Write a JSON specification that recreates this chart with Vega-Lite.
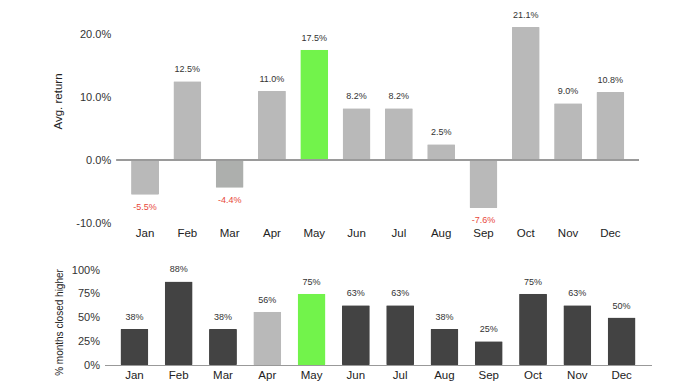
{
  "$schema": "https://vega.github.io/schema/vega-lite/v6.json",
  "background": "white",
  "padding": {"left": 51.5, "top": 11, "right": 5, "bottom": 5},
  "config": {
    "locale": {"number": {"decimal": ".", "thousands": ",", "grouping": [3], "currency": ["$", ""], "minus": "-"}},
    "view": {"stroke": null},
    "font": "Liberation Sans",
    "axis": {"labelFont": "Liberation Sans", "titleFont": "Liberation Sans", "labelColor": "#333", "titleColor": "#222", "labelFontSize": 11, "titleFontSize": 11, "titleFontWeight": "normal", "grid": false, "ticks": false}
  },
  "datasets": {
    "ret": [
      {"month": "Jan", "ret": -0.055, "kind": "base"},
      {"month": "Feb", "ret": 0.125, "kind": "base"},
      {"month": "Mar", "ret": -0.044, "kind": "alt"},
      {"month": "Apr", "ret": 0.110, "kind": "base"},
      {"month": "May", "ret": 0.175, "kind": "current"},
      {"month": "Jun", "ret": 0.082, "kind": "base"},
      {"month": "Jul", "ret": 0.082, "kind": "base"},
      {"month": "Aug", "ret": 0.025, "kind": "base"},
      {"month": "Sep", "ret": -0.076, "kind": "base"},
      {"month": "Oct", "ret": 0.211, "kind": "base"},
      {"month": "Nov", "ret": 0.090, "kind": "base"},
      {"month": "Dec", "ret": 0.108, "kind": "base"}
    ],
    "hit": [
      {"month": "Jan", "pct": 0.38, "kind": "dark"},
      {"month": "Feb", "pct": 0.88, "kind": "dark"},
      {"month": "Mar", "pct": 0.38, "kind": "dark"},
      {"month": "Apr", "pct": 0.56, "kind": "light"},
      {"month": "May", "pct": 0.75, "kind": "current"},
      {"month": "Jun", "pct": 0.63, "kind": "dark"},
      {"month": "Jul", "pct": 0.63, "kind": "dark"},
      {"month": "Aug", "pct": 0.38, "kind": "dark"},
      {"month": "Sep", "pct": 0.25, "kind": "dark"},
      {"month": "Oct", "pct": 0.75, "kind": "dark"},
      {"month": "Nov", "pct": 0.63, "kind": "dark"},
      {"month": "Dec", "pct": 0.50, "kind": "dark"}
    ]
  },
  "vconcat": [
    {
      "width": 522,
      "height": 189,
      "data": {"name": "ret"},
      "encoding": {
        "x": {"field": "month", "type": "nominal", "sort": null, "title": null,
              "scale": {"paddingInner": 0.34, "paddingOuter": 0.34},
              "axis": {"labelAngle": 0, "domain": false, "labelPadding": 4, "labelFontSize": 11.5, "labelColor": "#222"}},
        "y": {"field": "ret", "type": "quantitative", "title": "Avg. return",
              "scale": {"domain": [-0.1, 0.2], "nice": false},
              "axis": {"values": [-0.1, 0, 0.1, 0.2], "format": ".1%", "domain": false, "labelPadding": 6, "titleX": -53.5, "titleY": 67, "titleFontSize": 11.5}}
      },
      "layer": [
        {"mark": {"type": "bar", "cornerRadius": 1},
         "encoding": {"color": {"field": "kind", "type": "nominal", "legend": null,
            "scale": {"domain": ["base", "alt", "current"], "range": ["#b9b9b9", "#adafad", "#72f34b"]}}}},
        {"mark": {"type": "rule", "color": "#999", "strokeWidth": 1.2},
         "encoding": {"y": {"datum": 0, "type": "quantitative"}, "x": null}},
        {"transform": [{"filter": "datum.ret >= 0"}],
         "mark": {"type": "text", "dy": -12, "fontSize": 9, "color": "#333"},
         "encoding": {"text": {"field": "ret", "type": "quantitative", "format": ".1%"}}},
        {"transform": [{"filter": "datum.ret < 0"}],
         "mark": {"type": "text", "dy": 12, "fontSize": 9, "color": "#e8473a"},
         "encoding": {"text": {"field": "ret", "type": "quantitative", "format": ".1%"}}}
      ]
    },
    {
      "width": 547,
      "height": 95,
      "data": {"name": "hit"},
      "encoding": {
        "x": {"field": "month", "type": "nominal", "sort": null, "title": null,
              "scale": {"paddingInner": 0.37, "paddingOuter": 0.36},
              "axis": {"labelAngle": 0, "domain": true, "domainColor": "#999", "domainWidth": 1.2, "labelPadding": 4, "labelFontSize": 11.5, "labelColor": "#222"}},
        "y": {"field": "pct", "type": "quantitative", "title": "% months closed higher",
              "scale": {"domain": [0, 1], "nice": false},
              "axis": {"values": [0, 0.25, 0.5, 0.75, 1], "format": ".0%", "domain": false, "labelPadding": 5, "titleX": -40.5, "titleY": 52, "titleFontSize": 10}}
      },
      "layer": [
        {"mark": {"type": "bar", "cornerRadius": 1},
         "encoding": {"color": {"field": "kind", "type": "nominal", "legend": null,
            "scale": {"domain": ["dark", "light", "current"], "range": ["#434343", "#b9b9b9", "#72f34b"]}}}},
        {"mark": {"type": "text", "dy": -12, "fontSize": 9, "color": "#333"},
         "encoding": {"text": {"field": "pct", "type": "quantitative", "format": ".0%"}}}
      ]
    }
  ],
  "spacing": 25,
  "center": true,
  "resolve": {"scale": {"color": "independent"}}
}
